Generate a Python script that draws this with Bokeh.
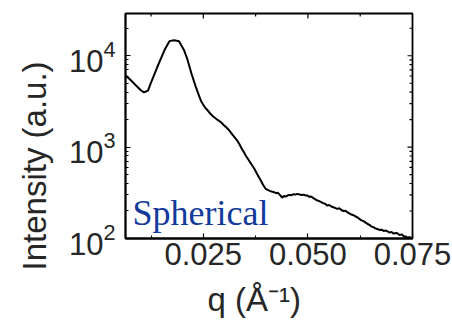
from bokeh.plotting import figure
from bokeh.models import Range1d, FixedTicker, LogTicker, Label, Title
from bokeh.embed import file_html
from bokeh.resources import INLINE

# ---- data ----
q = [0.0064, 0.0075, 0.0088, 0.0100, 0.0108, 0.0118, 0.0124, 0.0132, 0.0140, 0.0149,
     0.0157, 0.0169, 0.0180, 0.0192, 0.0204, 0.0212, 0.0222, 0.0232,
     0.0244, 0.0250, 0.0256, 0.0261, 0.0267, 0.0273, 0.0279, 0.0285, 0.0292, 0.0298,
     0.0304, 0.0310, 0.0315, 0.0320, 0.0326, 0.0331, 0.0336, 0.0341, 0.0347, 0.0352,
     0.0357, 0.0362, 0.0367, 0.0372, 0.0377, 0.0383, 0.0388, 0.0393,
     0.0399, 0.0405, 0.0410, 0.0415, 0.0419, 0.0424, 0.0428, 0.0433, 0.0436, 0.0439,
     0.0442, 0.0446, 0.0451, 0.0456, 0.0461, 0.0466, 0.0470, 0.0475, 0.0480, 0.0485,
     0.0490, 0.0494, 0.0499, 0.0504, 0.0508, 0.0513, 0.0518, 0.0522, 0.0527, 0.0532,
     0.0536, 0.0541, 0.0546, 0.0551, 0.0556, 0.0561, 0.0566, 0.0570, 0.0575, 0.0580,
     0.0585, 0.0590, 0.0594, 0.0599, 0.0604, 0.0609, 0.0614, 0.0618, 0.0623, 0.0628,
     0.0633, 0.0638, 0.0642, 0.0647, 0.0652, 0.0657, 0.0661, 0.0666, 0.0671, 0.0676,
     0.0681, 0.0686, 0.0690, 0.0695, 0.0700, 0.0705, 0.0710, 0.0714, 0.0719, 0.0724,
     0.0729, 0.0734, 0.0739, 0.0743, 0.0746]
intensity = [6110, 5500, 4790, 4220, 3980, 4170, 4950, 6100, 7530, 9400,
             11480, 14450, 14800, 14450, 11480, 9120, 6310, 4570,
             3240, 2900, 2650, 2500, 2320, 2180, 2070, 1970, 1880, 1760,
             1660, 1560, 1460, 1360, 1260, 1180, 1080, 980, 880, 800,
             740, 680, 630, 580, 525, 468, 425, 385,
             350, 338, 330, 325, 321, 313, 318, 300, 290, 279,
             292, 287, 295, 300, 298, 306, 302, 308, 303, 300,
             302, 296, 295, 285, 289, 276, 268, 261, 257, 250,
             244, 240, 229, 233, 224, 220, 215, 211, 214, 205,
             200, 201, 194, 188, 183, 180, 174, 171, 164, 158,
             155, 149, 145, 141, 135, 133, 129, 127, 124, 125,
             121, 122, 120, 116, 118, 113, 115, 114, 109, 111,
             106, 105, 101, 104, 101]

x_ticks = [0.025, 0.050, 0.075]
x_minor_ticks = [0.0125, 0.0375, 0.0625]
x_tick_labels = ["0.025", "0.050", "0.075"]
y_ticks = [100, 1000, 10000]

x_start, x_end = 0.0064, 0.0750
y_start, y_end = 100, 29000

y_minor_ticks = [m * t for t in y_ticks for m in range(2, 10) if m * t < y_end]

FONT = "Liberation Sans"
TXT = "#262626"

p = figure(width=452, height=329, output_backend="svg", toolbar_location=None,
           x_range=Range1d(x_start, x_end), y_range=Range1d(y_start, y_end),
           y_axis_type="log", min_border_left=124, min_border_right=41,
           min_border_top=13, min_border_bottom=91, frame_width=287, frame_height=225)
p.grid.visible = False
p.outline_line_color = "black"
p.outline_line_width = 1.8
p.background_fill_color = "white"
p.border_fill_color = "white"

p.line(q, intensity, line_color="black", line_width=2)

def style_axis(ax):
    ax.axis_line_color = "black"
    ax.axis_line_width = 1.8
    ax.major_tick_in = 5
    ax.major_tick_out = 0
    ax.minor_tick_in = 3
    ax.minor_tick_out = 0
    ax.major_tick_line_color = "black"
    ax.minor_tick_line_color = "black"
    ax.major_tick_line_width = 1.2
    ax.major_label_text_font = FONT
    ax.major_label_text_font_size = "31px"
    ax.major_label_text_color = TXT

# bottom axis
xb = p.xaxis[0]
xb.ticker = FixedTicker(ticks=x_ticks, minor_ticks=x_minor_ticks)
xb.major_label_overrides = {t: s for t, s in zip(x_ticks, x_tick_labels)}
xb.major_label_standoff = 4
style_axis(xb)

# left log axis (10 with exponent)
yl = p.yaxis[0]
yl.ticker = LogTicker(num_minor_ticks=10)
yl.major_label_standoff = 10
style_axis(yl)

# inward ticks on top and right sides
tick_kw = dict(length_units="screen", line_color="black", line_width=1.2)
p.ray(x=x_ticks, y=[y_end] * len(x_ticks), length=5, angle=-1.5707963, **tick_kw)
p.ray(x=x_minor_ticks, y=[y_end] * len(x_minor_ticks), length=3, angle=-1.5707963, **tick_kw)
p.ray(x=[x_end] * len(y_ticks), y=y_ticks, length=5, angle=3.1415926, **tick_kw)
p.ray(x=[x_end] * len(y_minor_ticks), y=y_minor_ticks, length=3, angle=3.1415926, **tick_kw)

# axis titles
p.add_layout(Title(text="Intensity (a.u.)", align="left", offset=-32,
                   text_font=FONT, text_font_size="33px", text_font_style="normal",
                   text_color=TXT, standoff=26, text_line_height=0.9), "left")
p.add_layout(Title(text="q (Å⁻¹)", align="left", offset=82,
                   text_font=FONT, text_font_size="33px", text_font_style="normal",
                   text_color=TXT, standoff=22, text_line_height=0.9), "below")

# panel annotation
p.add_layout(Label(x=x_start, y=y_start, text="Spherical", text_font="Liberation Serif",
                   text_font_size="36px", text_color="#12399b", text_align="left",
                   text_baseline="alphabetic", x_offset=7, y_offset=26))

open("out.html", "w").write(file_html(p, INLINE))
